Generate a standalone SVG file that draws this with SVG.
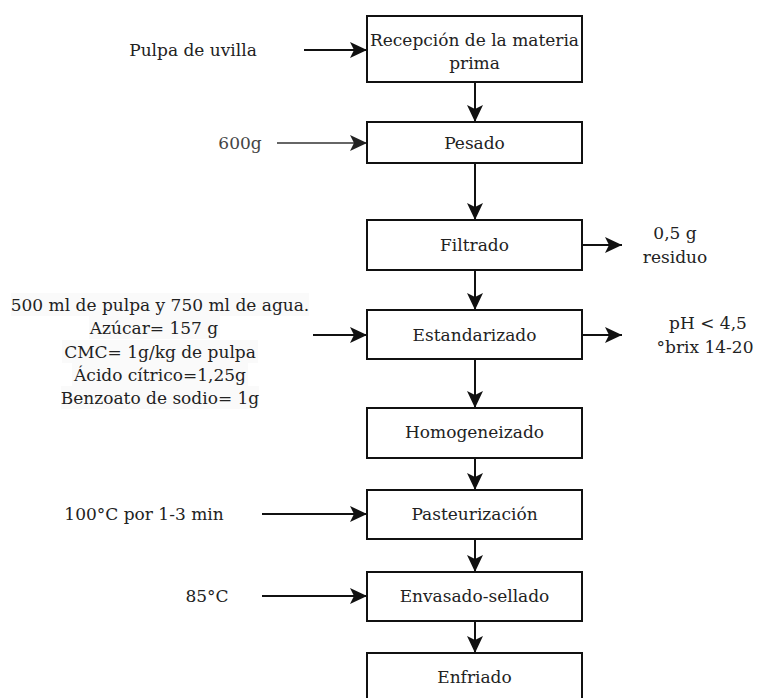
<svg xmlns="http://www.w3.org/2000/svg" width="757" height="698" viewBox="0 0 757 698">
<style>
.c{text-anchor:middle;dominant-baseline:central;}
.box{fill:#fff;stroke:#111;stroke-width:2;}
.ln{stroke:#111;stroke-width:2;fill:none;}
.gray{stroke:#666;}
.hl{fill:#fafafa;}
</style>
<defs>
<marker id="ah" markerUnits="userSpaceOnUse" markerWidth="20" markerHeight="18" refX="17" refY="8" orient="auto">
<path d="M0,0 L17,8 L0,16 L4,8 z" fill="#111"/>
</marker>
<marker id="ahg" markerUnits="userSpaceOnUse" markerWidth="20" markerHeight="18" refX="17" refY="8" orient="auto">
<path d="M0,0 L17,8 L0,16 L4,8 z" fill="#222"/>
</marker>
</defs>
<rect width="757" height="698" fill="#fff"/>

<g id="connectors">
<line class="ln" x1="304" y1="50" x2="367" y2="50" marker-end="url(#ah)"/>
<line class="ln gray" x1="277" y1="143" x2="367" y2="143" marker-end="url(#ahg)"/>
<line class="ln" x1="313" y1="335" x2="367" y2="335" marker-end="url(#ah)"/>
<line class="ln" x1="262" y1="514" x2="367" y2="514" marker-end="url(#ah)"/>
<line class="ln" x1="262" y1="596" x2="367" y2="596" marker-end="url(#ah)"/>
<line class="ln" x1="582" y1="245" x2="622" y2="245" marker-end="url(#ah)"/>
<line class="ln" x1="582" y1="335" x2="622" y2="335" marker-end="url(#ah)"/>
<line class="ln" x1="475" y1="82" x2="475" y2="122" marker-end="url(#ah)"/>
<line class="ln" x1="475" y1="163" x2="475" y2="220" marker-end="url(#ah)"/>
<line class="ln" x1="475" y1="270" x2="475" y2="310" marker-end="url(#ah)"/>
<line class="ln" x1="475" y1="359" x2="475" y2="408" marker-end="url(#ah)"/>
<line class="ln" x1="475" y1="458" x2="475" y2="490" marker-end="url(#ah)"/>
<line class="ln" x1="475" y1="539" x2="475" y2="572" marker-end="url(#ah)"/>
<line class="ln" x1="475" y1="621" x2="475" y2="653" marker-end="url(#ah)"/>
</g>

<g font-family="DejaVu Serif, serif" font-size="17" fill="#222">
<g id="n1"><rect class="box" x="367" y="16" width="215" height="66"/>
<text class="c" x="474.5" y="40">Recepción de la materia</text>
<text class="c" x="474.5" y="63">prima</text></g>
<g id="n2"><rect class="box" x="367" y="122" width="215" height="41"/>
<text class="c" x="474.5" y="143">Pesado</text></g>
<g id="n3"><rect class="box" x="367" y="220" width="215" height="50"/>
<text class="c" x="474.5" y="245">Filtrado</text></g>
<g id="n4"><rect class="box" x="367" y="310" width="215" height="49"/>
<text class="c" x="474.5" y="335">Estandarizado</text></g>
<g id="n5"><rect class="box" x="367" y="408" width="215" height="50"/>
<text class="c" x="474.5" y="432">Homogeneizado</text></g>
<g id="n6"><rect class="box" x="367" y="490" width="215" height="49"/>
<text class="c" x="474.5" y="514">Pasteurización</text></g>
<g id="n7"><rect class="box" x="367" y="572" width="215" height="49"/>
<text class="c" x="474.5" y="596">Envasado-sellado</text></g>
<g id="n8"><rect class="box" x="367" y="653" width="215" height="52"/>
<text class="c" x="474.5" y="677">Enfriado</text></g>

<g id="l-pulpa"><text class="c" x="193" y="50">Pulpa de uvilla</text></g>
<g id="l-600"><text class="c" x="240" y="143" fill="#444">600g</text></g>
<g id="l-residuo"><text class="c" x="675" y="233">0,5 g</text>
<text class="c" x="675" y="257">residuo</text></g>
<g id="l-ingredientes">
<rect class="hl" x="11" y="293" width="298" height="23"/>
<rect class="hl" x="89" y="316" width="131" height="23"/>
<rect class="hl" x="62" y="340" width="196" height="23"/>
<rect class="hl" x="72" y="363" width="176" height="23"/>
<rect class="hl" x="61" y="386" width="198" height="23"/>
<text class="c" x="160" y="305">500 ml de pulpa y 750 ml de agua.</text>
<text class="c" x="154" y="328">Azúcar= 157 g</text>
<text class="c" x="160" y="352">CMC= 1g/kg de pulpa</text>
<text class="c" x="160" y="375">Ácido cítrico=1,25g</text>
<text class="c" x="160" y="398">Benzoato de sodio= 1g</text>
</g>
<g id="l-ph"><text class="c" x="708" y="323">pH &lt; 4,5</text>
<text class="c" x="705" y="347">°brix 14-20</text></g>
<g id="l-past"><text class="c" x="144" y="514">100°C por 1-3 min</text></g>
<g id="l-85"><text class="c" x="207" y="596">85°C</text></g>
</g>
</svg>
